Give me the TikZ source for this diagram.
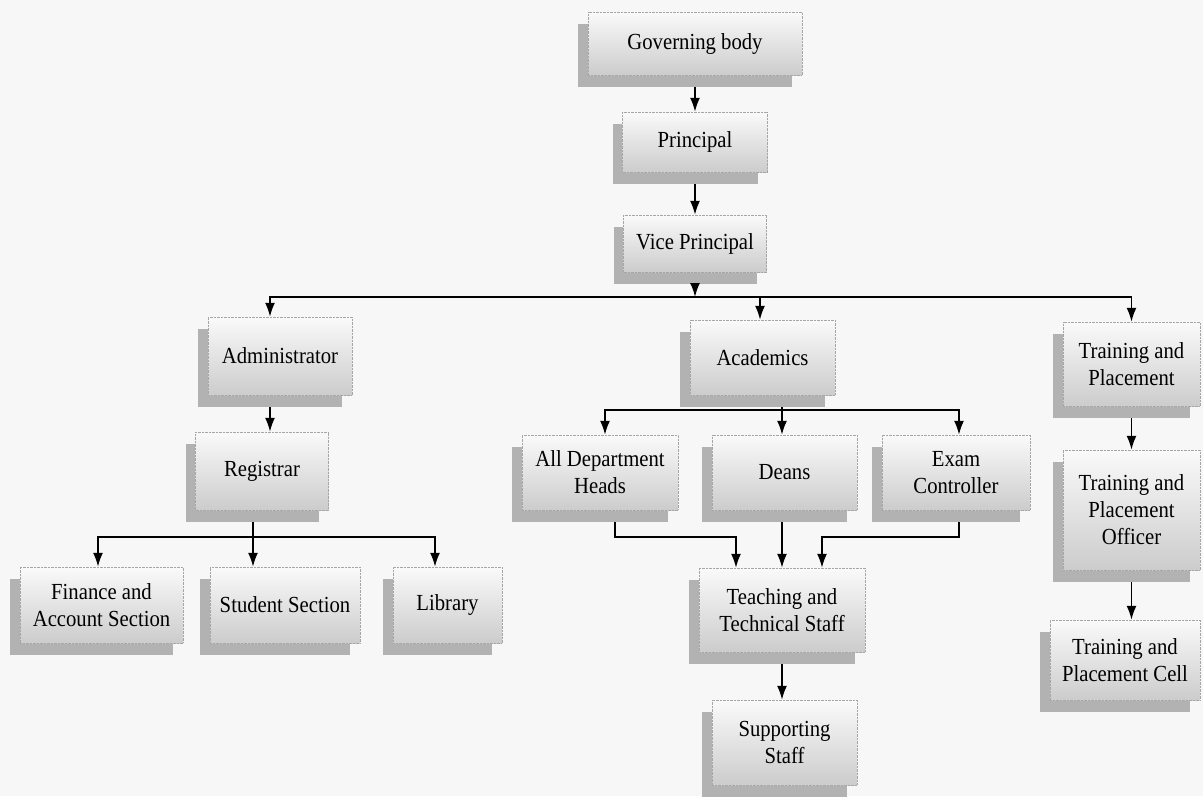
\documentclass[tikz,border=0pt]{standalone}
\usepackage{fontspec}
\setmainfont{Liberation Serif}[FakeStretch=0.9]
\usetikzlibrary{positioning, shadows, arrows.meta}
\tikzset{
    block/.style={
        draw=gray!70, densely dotted,
        top color=gray!4, bottom color=gray!40,
        drop shadow={shadow xshift=-10pt, shadow yshift=-12pt, fill=gray!60, opacity=1},
        align = center,
        font = \fontsize{23}{27}\selectfont
    },
    line/.style = {-{Latex[length=14pt, width=10pt]}, line width=1.8pt}
}
\begin{document}
\begin{tikzpicture}[x=1pt, y=-1pt]

    % Background
    \fill[gray!6] (0,0) rectangle (1203,796);
    \useasboundingbox (0,0) rectangle (1203,796);

    % Blocks
    \node[block, minimum width=214pt, minimum height=63pt] (gov) at (695,43.5) {Governing body};
    \node[block, minimum width=145pt, minimum height=60pt] (prin) at (695,142) {Principal};
    \node[block, minimum width=143pt, minimum height=57pt] (vice) at (695,243.5) {Vice Principal};

    \node[block, minimum width=144pt, minimum height=78pt] (adm) at (280,356) {Administrator};
    \node[block, minimum width=133pt, minimum height=78pt] (reg) at (262,471) {Registrar};
    \node[block, minimum width=163pt, minimum height=76pt] (fin) at (101.5,605) {Finance and\\Account Section};
    \node[block, minimum width=150pt, minimum height=76pt] (stu) at (285,605) {Student Section};
    \node[block, minimum width=109pt, minimum height=76pt] (lib) at (447.5,605) {Library};

    \node[block, minimum width=145pt, minimum height=75pt] (acad) at (762.5,357.5) {Academics};
    \node[block, minimum width=156pt, minimum height=75pt] (dept) at (600,472.5) {All Department\\Heads};
    \node[block, minimum width=145pt, minimum height=75pt] (deans) at (784.5,472.5) {Deans};
    \node[block, minimum width=148pt, minimum height=75pt] (exam) at (956,472.5) {Exam\\Controller};
    \node[block, minimum width=166pt, minimum height=84pt] (teach) at (782,610) {Teaching and\\Technical Staff};
    \node[block, minimum width=145pt, minimum height=85pt] (sup) at (784.5,742.5) {Supporting\\Staff};

    \node[block, minimum width=137pt, minimum height=84pt] (tp) at (1131.5,364) {Training and\\Placement};
    \node[block, minimum width=137pt, minimum height=120pt] (tpo) at (1131.5,510) {Training and\\Placement\\Officer};
    \node[block, minimum width=150pt, minimum height=80pt] (tpc) at (1125,660) {Training and\\Placement Cell};

    % Bends
    \coordinate (vpbus) at (695,297);
    \coordinate (regbus) at (253,537);
    \coordinate (acadbus) at (782,410);
    \coordinate (dbend) at (736,537);
    \coordinate (ebend) at (822,537);

    % Lines
    \draw[line] ([yshift=-12pt]gov.south) -- (prin.north);
    \draw[line] ([yshift=-12pt]prin.south) -- (vice.north);
    \draw[line] ([yshift=-12pt]vice.south) -- (vpbus);
    \draw[line] (vpbus) -| ([xshift=-10pt]adm.north);
    \draw[line] (vpbus) -| ([xshift=-2.5pt]acad.north);
    \draw[line] (vpbus) -| (tp.north);

    \draw[line] ([xshift=-10pt, yshift=-12pt]adm.south) -- ([xshift=8pt]reg.north);
    \draw[line width=1.8pt] ([xshift=-9pt, yshift=-12pt]reg.south) -- (regbus);
    \draw[line] (regbus) -| ([xshift=-3.5pt]fin.north);
    \draw[line] (regbus) -- ([xshift=-32pt]stu.north);
    \draw[line] (regbus) -| ([xshift=-12.5pt]lib.north);

    \draw[line width=1.8pt] ([xshift=19.5pt, yshift=-12pt]acad.south) -- (acadbus);
    \draw[line] (acadbus) -| ([xshift=5pt]dept.north);
    \draw[line] (acadbus) -- ([xshift=-2.5pt]deans.north);
    \draw[line] (acadbus) -| ([xshift=3pt]exam.north);

    \draw[line] ([xshift=15pt, yshift=-12pt]dept.south) |- (dbend) -- ([xshift=-46pt]teach.north);
    \draw[line] ([xshift=-2.5pt, yshift=-12pt]deans.south) -- (teach.north);
    \draw[line] ([xshift=3pt, yshift=-12pt]exam.south) |- (ebend) -- ([xshift=40pt]teach.north);
    \draw[line] ([yshift=-12pt]teach.south) -- ([xshift=-2.5pt]sup.north);

    \draw[line] ([yshift=-12pt]tp.south) -- (tpo.north);
    \draw[line] ([yshift=-12pt]tpo.south) -- ([xshift=6.5pt]tpc.north);

\end{tikzpicture}
\end{document}
